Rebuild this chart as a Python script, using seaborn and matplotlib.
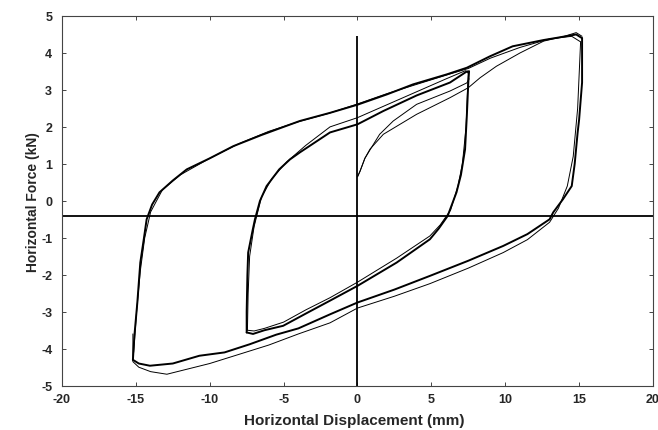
import numpy as np
import pandas as pd
import matplotlib
matplotlib.use("Agg")
import matplotlib.pyplot as plt
import seaborn as sns

# Outer loop (+/-15 mm), upper branch incl. left reversal
outer_up_x = [-15.2, -15.1, -14.9, -14.7, -14.45, -14.27, -13.9, -13.4, -12.5, -11.56,
              -10.0, -8.4, -6.5, -5.0, -3.9, -1.86, 0.0, 2.0, 3.76, 6.04, 7.4, 8.97,
              10.5, 12.6, 13.5, 14.8, 15.2]
outer_up_y = [-4.3, -3.65, -2.75, -1.67, -1.0, -0.5, -0.1, 0.23, 0.55, 0.85,
              1.15, 1.48, 1.78, 2.0, 2.16, 2.38, 2.6, 2.88, 3.15, 3.42, 3.6, 3.91,
              4.18, 4.35, 4.41, 4.5, 4.4]
# Outer loop, right reversal + lower branch
outer_dn_x = [15.2, 15.2, 15.0, 14.9, 14.7, 14.5, 13.9, 13.25, 13.0, 11.5, 9.86, 7.5,
              4.9, 2.5, 0.0, -1.86, -4.0, -5.5, -7.3, -9.0, -10.7, -12.5, -14.05,
              -14.8, -15.2]
outer_dn_y = [4.4, 3.2, 2.2, 1.85, 1.0, 0.4, 0.04, -0.31, -0.5, -0.9, -1.22, -1.62,
              -2.03, -2.4, -2.75, -3.07, -3.45, -3.62, -3.88, -4.1, -4.19, -4.4, -4.46,
              -4.4, -4.3]
# Outer loop, lower cycle (thin)
outer_dn2_x = [15.1, 14.9, 14.6, 14.2, 13.6, 13.0, 11.5, 9.86, 7.5, 4.9, 2.5, 0.0,
               -1.86, -4.0, -6.0, -8.0, -10.0, -12.0, -12.9, -14.0, -14.8, -15.2, -15.2]
outer_dn2_y = [4.3, 2.5, 1.2, 0.4, -0.2, -0.58, -1.05, -1.4, -1.82, -2.24, -2.58, -2.9,
               -3.3, -3.6, -3.9, -4.15, -4.4, -4.6, -4.69, -4.62, -4.5, -4.35, -3.6]
# Outer loop, other upper cycle (thin)
outer_up2_x = [-15.15, -14.95, -14.7, -14.4, -14.0, -13.2, -12.0, -10.0, -8.0, -6.0,
               -4.0, -2.0, 0.0, 2.0, 4.0, 6.0, 7.5, 9.0, 11.0, 13.0, 14.5, 15.1]
outer_up2_y = [-4.1, -3.0, -1.9, -1.0, -0.3, 0.3, 0.7, 1.15, 1.55, 1.88,
               2.14, 2.36, 2.62, 2.9, 3.15, 3.4, 3.58, 3.86, 4.15, 4.38, 4.45, 4.3]

# Inner loop (+/-7.5 mm), upper branch
inner_up_x = [-7.5, -7.5, -7.45, -7.4, -7.1, -6.94, -6.6, -6.15, -5.3, -4.57, -3.9,
              -1.86, 0.0, 1.75, 4.0, 6.26, 7.4, 7.55]
inner_up_y = [-3.56, -3.0, -2.0, -1.4, -0.8, -0.5, 0.0, 0.4, 0.85, 1.12, 1.31,
              1.85, 2.07, 2.43, 2.85, 3.2, 3.5, 3.5]
# Inner loop, right reversal + lower branch
inner_dn_x = [7.55, 7.5, 7.4, 7.28, 7.0, 6.7, 6.1, 5.5, 4.9, 2.65, 0.0, -1.86, -3.5,
              -5.03, -6.3, -7.07, -7.5]
inner_dn_y = [3.5, 3.2, 2.3, 1.39, 0.7, 0.23, -0.41, -0.75, -1.04, -1.67, -2.3, -2.7,
              -3.05, -3.38, -3.5, -3.6, -3.56]
# Inner loop, second cycle (thin)
inner_up2_x = [-7.45, -7.4, -7.3, -7.0, -6.5, -5.8, -4.8, -3.5, -1.86, 0.0, 2.0, 4.0,
               6.0, 7.3, 7.5]
inner_up2_y = [-3.5, -2.5, -1.5, -0.7, 0.1, 0.6, 1.05, 1.5, 2.0, 2.25, 2.6, 2.95,
               3.3, 3.52, 3.45]
inner_dn2_x = [7.5, 7.45, 7.35, 7.1, 6.8, 6.3, 5.6, 4.9, 2.65, 0.0, -1.86, -3.5, -5.0,
               -6.3, -7.0, -7.45]
inner_dn2_y = [3.45, 3.0, 2.0, 1.0, 0.4, -0.25, -0.65, -0.95, -1.55, -2.2, -2.62,
               -2.95, -3.28, -3.45, -3.52, -3.5]

# Initial loading curves from the origin
init_a_x = [0.0, 0.17, 0.5, 0.85, 1.5, 2.42, 4.0, 6.26, 7.4, 7.55]
init_a_y = [0.65, 0.8, 1.15, 1.38, 1.8, 2.16, 2.61, 2.97, 3.19, 3.3]
init_b_x = [0.0, 0.17, 0.5, 0.85, 1.75, 4.0, 6.26, 7.5, 8.3, 9.4, 11.0, 12.6, 14.0,
            14.8, 15.2]
init_b_y = [0.65, 0.8, 1.15, 1.4, 1.8, 2.34, 2.79, 3.06, 3.33, 3.64, 4.0, 4.32, 4.45,
            4.55, 4.45]

# reference lines drawn on the original chart
force_line = -0.42
disp_line = 0.0
disp_line_top = 4.45

x_ticks = [-20, -15, -10, -5, 0, 5, 10, 15, 20]
y_ticks = [-5, -4, -3, -2, -1, 0, 1, 2, 3, 4, 5]

sns.set_style("ticks")
plt.rcParams['font.family'] = ['Liberation Sans', 'DejaVu Sans']
plt.rcParams['font.weight'] = 'bold'
plt.rcParams['axes.unicode_minus'] = False

fig = plt.figure(figsize=(6.58, 4.31), dpi=100)
ax = fig.add_axes([0.0942, 0.1028, 0.8982, 0.8578])

branches = [
    (outer_dn2_x, outer_dn2_y, 0.7),
    (outer_up2_x, outer_up2_y, 0.7),
    (init_a_x, init_a_y, 0.7),
    (init_b_x, init_b_y, 0.7),
    (inner_up2_x, inner_up2_y, 0.7),
    (inner_dn2_x, inner_dn2_y, 0.7),
    (outer_up_x, outer_up_y, 1.4),
    (outer_dn_x, outer_dn_y, 1.4),
    (inner_up_x, inner_up_y, 1.4),
    (inner_dn_x, inner_dn_y, 1.4),
]
for bx, by, lw in branches:
    df = pd.DataFrame({"disp": bx, "force": by})
    sns.lineplot(data=df, x="disp", y="force", sort=False, estimator=None,
                 color="black", linewidth=lw, ax=ax)

ax.axhline(force_line, color="black", linewidth=1.3)
ax.vlines(disp_line, -5, disp_line_top, color="black", linewidth=1.3)

ax.set_xlim(-20, 20)
ax.set_ylim(-5, 5)
ax.set_xticks(x_ticks)
ax.set_yticks(y_ticks)
ax.tick_params(direction="in", top=True, right=True, length=3, width=0.7,
               labelsize=9, color="#444444")
ax.tick_params(axis="x", pad=5.5)
ax.tick_params(axis="y", pad=7)
for s in ax.spines.values():
    s.set_visible(True)
    s.set_linewidth(0.8)
    s.set_color("#444444")

ax.set_xlabel("Horizontal Displacement (mm)", fontsize=11, fontweight="bold")
ax.set_ylabel("Horizontal Force (kN)", fontsize=10, fontweight="bold")
ax.xaxis.set_label_coords(0.495, -0.075)
ax.yaxis.set_label_coords(-0.037, 0.5)

fig.savefig("out.png", dpi=100)
